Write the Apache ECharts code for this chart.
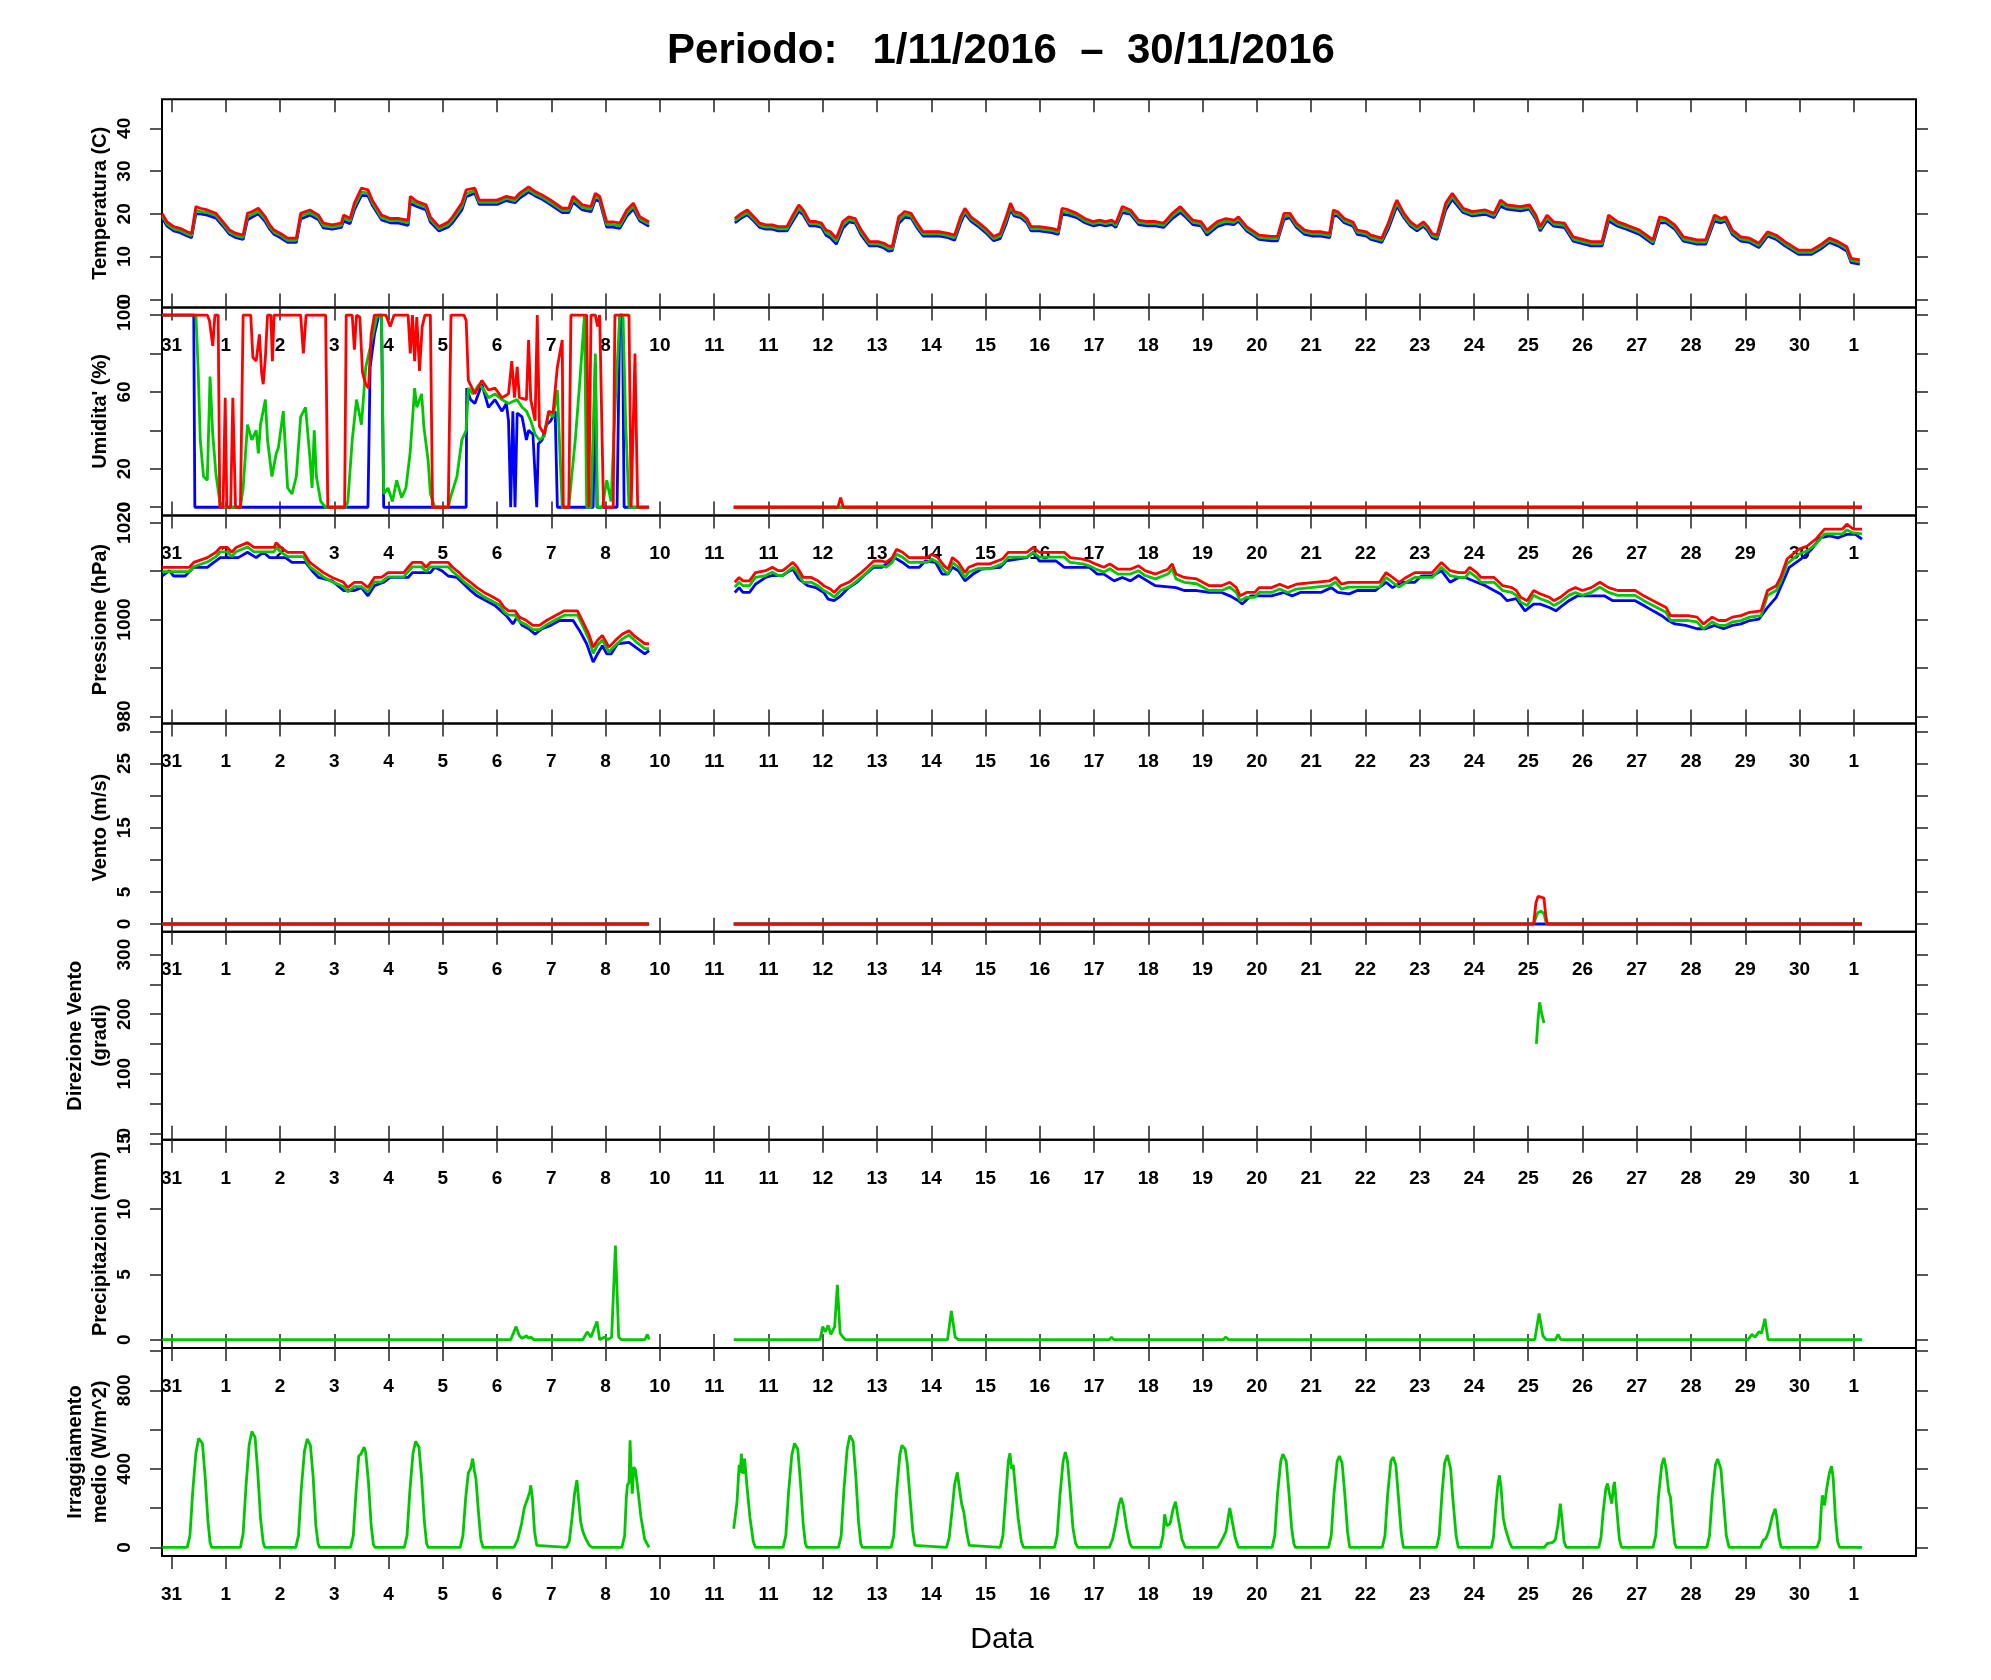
<!DOCTYPE html>
<html><head><meta charset="utf-8"><title>Periodo 1/11/2016 - 30/11/2016</title>
<script src="https://cdn.jsdelivr.net/npm/echarts@6/dist/echarts.min.js"></script>
<style>html,body{margin:0;padding:0;background:#fff;}#chart{width:1991px;height:1680px;}</style>
</head><body><div id="chart"></div><script>
const FONT = '"Liberation Sans", Arial, Helvetica, sans-serif';
const RED = '#ff0000', GREEN = '#00c800', BLUE = '#0000ff';

// x axis: days counted from the "31" tick
const dayTicks = [0,1,2,3,4,5,6,7,8,9,10,11,12,13,14,15,16,17,18,19,20,21,22,23,24,25,26,27,28,29,30,31];
const dayLabels = ['31','1','2','3','4','5','6','7','8','10','11','11','12','13','14','15','16','17','18','19','20','21','22','23','24','25','26','27','28','29','30','1'];

// ---------- Temperatura ----------
const tempT = [
-0.17,-0.08,0.04,0.16,0.29,0.37,0.45,0.53,0.66,0.82,
0.95,1.07,1.19,1.32,1.40,1.48,1.60,1.73,1.81,1.89,
2.01,2.14,2.30,2.38,2.55,2.71,2.80,2.96,3.13,3.17,
3.29,3.37,3.50,3.62,3.70,3.87,4.03,4.19,4.36,4.40,
4.52,4.69,4.77,4.93,5.10,5.18,5.35,5.43,5.59,5.67,
5.84,6.00,6.17,6.33,6.41,6.58,6.70,6.83,6.99,7.20,
7.32,7.40,7.57,7.73,7.81,7.89,8.02,8.14,8.26,8.39,
8.51,8.63,8.80,
9.5,
10.38,10.50,10.61,10.73,10.84,10.95,11.07,11.18,11.34,11.45,
11.56,11.64,11.76,11.87,11.98,12.06,12.14,12.25,12.37,12.48,
12.60,12.71,12.86,13.02,13.13,13.21,13.28,13.40,13.51,13.63,
13.74,13.85,14.01,14.16,14.31,14.43,14.54,14.62,14.73,14.85,
15.00,15.15,15.27,15.38,15.46,15.53,15.65,15.76,15.84,15.99,
16.22,16.34,16.41,16.53,16.68,16.83,16.98,17.10,17.21,17.33,
17.40,17.52,17.67,17.82,17.98,18.13,18.28,18.44,18.59,18.70,
18.82,18.97,19.08,19.27,19.43,19.58,19.66,19.81,20.04,20.27,
20.38,20.50,20.61,20.73,20.88,21.03,21.18,21.34,21.41,21.49,
21.61,21.77,21.85,22.02,22.10,22.22,22.30,22.42,22.54,22.58,
22.71,22.83,22.95,23.07,23.15,23.23,23.32,23.48,23.60,23.80,
23.97,24.21,24.37,24.49,24.61,24.86,25.02,25.14,25.22,25.35,
25.47,25.67,25.83,26.16,26.36,26.48,26.65,26.81,27.05,27.30,
27.42,27.54,27.70,27.86,28.11,28.27,28.43,28.55,28.64,28.76,
28.92,29.08,29.25,29.41,29.57,29.73,29.98,30.22,30.38,30.55,
30.71,30.87,30.95,31.11];
const tempMax = [
20.0,18.1,17.0,16.6,15.8,15.4,21.7,21.3,20.9,20.1,
18.1,16.2,15.4,15.0,20.1,20.5,21.3,19.3,17.4,16.2,
15.4,14.3,14.3,20.1,20.9,19.7,17.8,17.4,17.8,19.7,
18.9,22.5,26.0,25.6,23.2,19.7,18.9,18.9,18.5,24.1,
22.9,22.1,19.3,17.0,18.1,19.3,22.5,25.6,26.0,23.2,
23.2,23.2,24.1,23.6,24.8,26.3,25.2,24.4,23.2,21.3,
21.3,24.1,22.1,21.7,24.8,24.1,18.1,18.1,17.8,20.9,
22.5,19.3,18.1,
null,
18.9,20.1,20.9,19.3,17.8,17.4,17.4,17.0,17.0,19.7,
22.1,20.9,18.2,18.2,17.8,16.2,15.8,14.3,18.2,19.3,
18.9,16.2,13.5,13.5,13.1,12.5,12.3,19.3,20.5,20.1,
17.8,15.8,15.8,15.8,15.4,15.0,19.3,21.3,19.3,18.2,
16.6,14.7,15.4,19.3,22.5,20.5,20.1,18.9,17.0,17.0,
16.6,16.2,21.3,20.9,20.1,18.9,18.2,18.5,18.2,18.5,
17.8,21.7,20.9,18.5,18.2,18.2,17.8,20.1,21.7,20.1,
18.5,18.2,16.2,18.2,18.9,18.5,19.3,17.0,15.0,14.7,
14.7,20.1,20.1,17.8,16.2,15.8,15.8,15.4,20.9,20.5,
18.9,18.1,16.2,15.8,15.0,14.6,14.3,17.8,22.1,23.2,
20.1,18.1,17.0,18.1,17.0,15.4,15.0,22.5,24.8,21.3,
20.5,20.9,20.1,23.2,22.1,21.7,22.1,19.7,17.0,19.7,
18.1,17.8,14.6,13.5,13.5,19.7,18.1,17.4,16.2,13.9,
19.3,18.9,17.4,14.6,13.9,13.9,19.7,18.9,19.3,16.2,
14.6,14.3,13.1,15.8,15.0,13.5,11.5,11.5,12.7,14.3,
13.5,12.3,9.6,9.2];
const tempMean = [
19.5,17.6,16.5,16.1,15.3,14.9,20.8,20.6,20.3,19.6,
17.6,15.7,14.9,14.5,19.3,19.8,20.6,18.7,16.9,15.7,
14.9,13.8,13.8,19.4,20.3,19.1,17.2,16.9,17.3,19.0,
18.3,21.7,25.1,24.9,22.6,19.1,18.4,18.4,17.9,23.2,
22.3,21.5,18.7,16.5,17.5,18.6,21.7,24.8,25.4,22.7,
22.7,22.7,23.6,23.1,24.2,25.7,24.7,23.9,22.6,20.8,
20.8,23.4,21.5,21.1,24.1,23.5,17.5,17.5,17.2,20.2,
21.8,18.8,17.6,
null,
18.4,19.5,20.3,18.8,17.3,16.9,16.9,16.5,16.5,19.0,
21.3,20.3,17.7,17.7,17.3,15.6,15.1,13.6,17.4,18.7,
18.3,15.6,13.0,13.0,12.5,11.9,11.8,18.5,19.8,19.5,
17.2,15.3,15.3,15.3,14.9,14.4,18.5,20.7,18.8,17.7,
16.1,14.2,14.8,18.5,21.7,20.0,19.6,18.4,16.5,16.5,
16.1,15.7,20.6,20.3,19.6,18.4,17.7,18.0,17.7,18.0,
17.3,21.0,20.4,18.0,17.7,17.7,17.3,19.5,21.0,19.6,
18.0,17.7,15.6,17.6,18.3,18.0,18.8,16.5,14.5,14.2,
14.2,19.4,19.6,17.3,15.7,15.3,15.3,14.9,20.2,20.0,
18.4,17.6,15.7,15.3,14.5,14.1,13.8,17.1,21.3,22.5,
19.6,17.6,16.5,17.6,16.5,14.9,14.5,21.7,24.1,20.8,
20.0,20.4,19.6,22.5,21.6,21.2,21.6,19.2,16.5,19.1,
17.6,17.3,14.1,13.0,13.0,19.0,17.6,16.9,15.7,13.4,
18.6,18.4,16.9,14.1,13.4,13.4,19.0,18.4,18.8,15.7,
14.1,13.8,12.6,15.3,14.5,13.0,11.0,11.0,12.2,13.8,
13.0,11.8,9.1,8.7];
const tempMin = [
19.0,17.1,16.0,15.6,14.8,14.4,20.0,20.0,19.7,19.0,
17.1,15.2,14.4,14.0,18.6,19.2,20.0,18.1,16.4,15.2,
14.4,13.3,13.3,18.8,19.7,18.6,16.7,16.4,16.8,18.3,
17.7,20.9,24.3,24.2,22.0,18.6,17.9,17.8,17.3,22.4,
21.7,20.9,18.1,16.0,16.9,17.9,20.9,24.0,24.8,22.2,
22.2,22.2,23.1,22.6,23.6,25.1,24.2,23.4,22.1,20.3,
20.3,22.7,20.9,20.5,23.3,22.9,16.9,16.9,16.6,19.5,
21.1,18.3,17.1,
null,
17.9,19.0,19.8,18.3,16.8,16.4,16.4,16.0,16.0,18.3,
20.6,19.8,17.2,17.2,16.8,15.0,14.4,12.9,16.6,18.1,
17.8,15.0,12.5,12.5,12.0,11.3,11.4,17.7,19.2,19.0,
16.7,14.8,14.8,14.8,14.4,13.8,17.8,20.1,18.3,17.2,
15.6,13.7,14.2,17.7,20.9,19.5,19.1,17.9,16.0,16.0,
15.6,15.2,19.9,19.7,19.1,17.9,17.2,17.5,17.2,17.5,
16.8,20.3,19.9,17.5,17.2,17.2,16.8,18.9,20.3,19.1,
17.5,17.2,15.0,17.0,17.7,17.5,18.3,16.0,14.0,13.7,
13.7,18.7,19.1,16.8,15.2,14.8,14.8,14.4,19.5,19.5,
17.9,17.1,15.2,14.8,14.0,13.6,13.3,16.4,20.5,21.8,
19.1,17.1,16.0,17.1,16.0,14.4,14.0,20.9,23.4,20.3,
19.5,19.9,19.1,21.8,21.1,20.7,21.1,18.7,16.0,18.5,
17.1,16.8,13.6,12.5,12.5,18.3,17.1,16.4,15.2,12.9,
17.9,17.9,16.4,13.6,12.9,12.9,18.3,17.9,18.3,15.2,
13.6,13.3,12.1,14.8,14.0,12.5,10.5,10.5,11.7,13.3,
12.5,11.3,8.6,8.2];

// ---------- Umidita' ----------
const humMaxT = [
-0.17,0.66,0.70,0.76,0.80,0.86,0.89,0.95,0.99,1.02,
1.09,1.13,1.18,1.27,1.32,1.46,1.50,1.56,1.62,1.66,
1.69,1.73,1.77,1.83,1.86,1.89,2.38,2.43,2.48,2.84,
2.88,3.19,3.22,3.33,3.37,3.41,3.47,3.52,3.58,3.63,
3.68,3.74,3.95,4.03,4.10,4.36,4.40,4.44,4.48,4.52,
4.57,4.62,4.67,4.77,4.81,5.10,5.15,5.39,5.43,5.47,
5.59,5.72,5.84,5.96,6.09,6.21,6.27,6.32,6.37,6.41,
6.54,6.58,6.62,6.70,6.74,6.78,6.87,6.95,7.03,7.11,
7.20,7.22,7.32,7.36,7.65,7.69,7.73,7.81,7.85,7.89,
7.96,8.14,8.17,8.43,8.47,8.54,8.59,8.80,
9.5,
10.36,12.28,12.33,12.38,31.15];
const humMax = [
100,100,97,84,100,100,0,0,57,0,
0,57,0,0,100,100,78,76,90,70,
64,78,100,100,76,100,100,80,100,100,
0,0,100,100,82,100,99,70,64,62,
90,100,100,94,100,100,80,100,76,99,
71,94,100,100,0,0,100,100,97,66,
59,66,61,62,57,59,76,57,73,57,
56,87,56,45,100,42,38,50,49,73,
87,0,0,100,100,0,100,100,94,100,
0,0,100,100,0,80,0,0,
null,
0,0,5,0,0];
const humMeanT = [
-0.17,0.45,0.49,0.53,0.59,0.66,0.71,0.76,0.82,0.89,
0.95,1.27,1.32,1.40,1.48,1.56,1.60,1.64,1.73,1.77,
1.85,1.93,1.97,2.06,2.14,2.22,2.30,2.38,2.47,2.55,
2.59,2.63,2.67,2.75,2.84,3.21,3.25,3.33,3.41,3.50,
3.58,3.66,3.78,3.87,3.91,3.99,4.07,4.15,4.24,4.32,
4.40,4.48,4.52,4.61,4.65,4.73,4.77,4.85,5.10,5.14,
5.26,5.35,5.43,5.47,5.55,5.67,5.76,5.84,5.96,6.09,
6.21,6.29,6.37,6.46,6.54,6.62,6.70,6.78,6.87,6.95,
7.03,7.11,7.20,7.32,7.44,7.52,7.61,7.65,7.73,7.81,
7.85,7.94,8.02,8.10,8.18,8.26,8.32,8.37,8.43,8.80,
9.5,
10.36,31.15];
const humMean = [
100,100,73,35,16,14,68,38,17,3,
0,0,10,43,35,40,28,43,56,35,
16,28,31,50,10,7,16,47,52,26,
10,40,16,3,0,0,3,35,56,43,
73,83,99,100,7,10,3,14,5,10,
29,62,52,59,42,24,7,0,0,5,
16,35,40,62,59,64,61,57,59,56,
54,55,56,52,50,45,38,35,37,49,
47,61,0,0,35,64,100,0,0,80,
0,0,14,3,56,100,100,43,0,0,
null,
0,0];
const humMinT = [
-0.17,0.41,0.43,3.62,3.66,3.74,3.82,3.87,3.91,5.43,
5.44,5.51,5.59,5.72,5.84,5.96,6.09,6.17,6.21,6.25,
6.29,6.33,6.37,6.46,6.54,6.58,6.66,6.73,6.76,6.83,
6.91,6.99,7.07,7.11,7.77,7.81,7.84,8.21,8.26,8.31,
8.34,8.80,
9.5,
10.36,31.15];
const humMin = [
100,100,0,0,73,90,100,100,0,0,
62,56,54,64,52,56,50,54,45,0,
50,0,49,47,35,40,38,0,33,35,
43,45,50,0,0,75,0,0,100,100,
0,0,
null,
0,0];

// ---------- Pressione ----------
const presMaxT = [
-0.17,0.33,0.41,0.66,0.82,0.90,1.03,1.11,1.19,1.40,
1.52,1.89,1.93,2.01,2.14,2.43,2.55,2.67,2.80,2.96,
3.17,3.25,3.37,3.50,3.62,3.74,3.87,3.99,4.28,4.36,
4.44,4.61,4.69,4.77,5.10,5.18,5.30,5.39,5.51,5.63,
5.76,5.88,6.04,6.13,6.21,6.33,6.41,6.54,6.66,6.78,
6.91,7.07,7.24,7.48,7.57,7.69,7.77,7.85,7.94,8.06,
8.18,8.31,8.43,8.55,8.72,8.80,
9.5,
10.38,10.46,10.53,10.65,10.76,10.95,11.07,11.18,11.26,11.34,
11.45,11.53,11.64,11.79,11.91,12.02,12.14,12.21,12.33,12.48,
12.60,12.71,12.82,12.94,13.09,13.17,13.28,13.36,13.47,13.59,
13.93,14.01,14.12,14.24,14.31,14.39,14.50,14.62,14.69,14.85,
15.08,15.31,15.42,15.76,15.88,15.99,16.45,16.56,16.79,16.91,
17.02,17.18,17.29,17.44,17.67,17.82,17.94,18.13,18.36,18.44,
18.51,18.66,18.89,19.12,19.35,19.50,19.62,19.69,19.81,19.96,
20.04,20.27,20.42,20.57,20.73,21.34,21.45,21.56,21.69,21.85,
22.26,22.38,22.50,22.62,22.75,22.91,23.23,23.40,23.56,23.72,
23.84,23.92,24.05,24.13,24.37,24.53,24.70,24.78,24.86,24.98,
25.10,25.22,25.39,25.47,25.59,25.75,25.87,26.00,26.16,26.32,
26.48,26.65,26.97,27.13,27.30,27.54,27.62,27.95,28.11,28.23,
28.39,28.51,28.64,28.76,28.92,29.08,29.29,29.41,29.57,29.65,
29.77,29.98,30.14,30.30,30.46,30.79,30.87,30.99,31.15];
const presMax = [
1010.8,1010.8,1011.8,1012.8,1013.9,1014.9,1014.9,1013.9,1014.9,1015.9,
1014.9,1014.9,1015.9,1014.9,1013.9,1013.9,1011.8,1010.8,1009.7,1008.7,
1007.7,1006.6,1007.7,1007.7,1006.6,1008.7,1008.7,1009.7,1009.7,1010.8,
1011.8,1011.8,1010.8,1011.8,1011.8,1010.8,1009.7,1008.7,1007.7,1006.6,
1005.6,1004.9,1003.9,1002.5,1001.8,1001.8,1000.5,999.8,998.8,998.8,
999.8,1000.8,1001.8,1001.8,999.8,997.0,994.3,995.7,996.7,994.3,
995.7,997.0,997.7,996.4,995.0,995.0,
null,
1007.7,1008.7,1008.0,1008.0,1009.7,1010.1,1010.8,1010.1,1010.1,1010.8,
1011.8,1010.8,1008.7,1008.7,1008.0,1007.0,1006.3,1005.6,1007.0,1007.7,
1008.7,1009.7,1010.8,1012.1,1012.1,1011.8,1012.8,1014.5,1013.9,1012.8,
1012.8,1013.5,1012.8,1011.1,1010.4,1012.8,1011.8,1009.7,1010.8,1011.5,
1011.5,1012.5,1013.9,1013.9,1014.9,1013.9,1013.9,1012.8,1012.5,1012.1,
1011.5,1010.8,1011.5,1010.4,1010.4,1011.1,1010.1,1009.4,1010.4,1011.5,
1009.4,1008.7,1008.4,1007.0,1007.0,1007.7,1006.6,1004.9,1005.6,1005.6,
1006.6,1006.6,1007.3,1006.6,1007.3,1008.0,1008.7,1007.3,1007.7,1007.7,
1007.7,1009.7,1008.7,1007.7,1008.7,1009.7,1009.7,1011.8,1010.1,1009.7,
1009.7,1010.8,1009.7,1008.7,1008.7,1007.0,1006.6,1006.0,1004.6,1003.9,
1006.0,1005.3,1004.6,1003.9,1004.6,1006.0,1006.6,1006.0,1006.6,1007.7,
1006.6,1006.0,1006.0,1004.9,1003.9,1002.5,1000.8,1000.8,1000.5,999.1,
1000.5,999.8,999.8,1000.5,1000.8,1001.5,1001.8,1006.0,1007.0,1008.7,
1012.5,1014.5,1015.2,1016.6,1018.7,1018.7,1019.7,1018.7,1018.7];
const presMean = [
1009.9,1009.9,1010.9,1011.9,1013.0,1014.0,1014.0,1013.0,1014.0,1015.0,
1014.0,1014.0,1015.0,1014.0,1013.0,1013.0,1010.9,1009.9,1008.8,1007.8,
1006.8,1005.7,1006.8,1006.8,1005.7,1007.8,1007.8,1008.8,1008.8,1009.9,
1010.9,1010.9,1009.9,1010.9,1010.9,1009.9,1008.8,1007.8,1006.8,1005.7,
1004.7,1004.0,1003.0,1001.6,1000.9,1000.9,999.6,998.9,997.9,997.9,
998.9,999.9,1000.9,1000.9,998.9,996.0,993.0,994.7,995.8,993.3,
994.7,996.0,996.8,995.5,994.0,994.0,
null,
1006.7,1007.7,1007.0,1007.0,1008.7,1009.1,1009.8,1009.1,1009.1,1009.8,
1010.8,1009.8,1007.7,1007.7,1007.0,1006.0,1005.3,1004.6,1006.0,1006.7,
1007.7,1008.7,1009.8,1011.1,1011.1,1010.8,1011.8,1013.5,1012.9,1011.8,
1011.8,1012.5,1011.8,1010.1,1009.4,1011.8,1010.8,1008.7,1009.8,1010.5,
1010.5,1011.5,1012.9,1012.9,1013.9,1012.9,1012.9,1011.8,1011.5,1011.1,
1010.5,1009.8,1010.5,1009.4,1009.4,1010.1,1009.1,1008.4,1009.4,1010.5,
1008.4,1007.7,1007.4,1006.0,1006.0,1006.7,1005.6,1003.9,1004.6,1004.6,
1005.6,1005.6,1006.3,1005.6,1006.3,1007.0,1007.7,1006.3,1006.7,1006.7,
1006.7,1008.7,1007.7,1006.7,1007.7,1008.7,1008.7,1010.8,1009.1,1008.7,
1008.7,1009.8,1008.7,1007.7,1007.7,1006.0,1005.6,1005.0,1003.6,1002.9,
1005.0,1004.3,1003.6,1002.9,1003.6,1005.0,1005.6,1005.0,1005.6,1006.7,
1005.6,1005.0,1005.0,1003.9,1002.9,1001.5,999.8,999.8,999.5,998.1,
999.5,998.8,998.8,999.5,999.8,1000.5,1000.8,1005.0,1006.0,1007.7,
1011.5,1013.5,1014.2,1015.6,1017.7,1017.7,1018.5,1017.9,1017.7];
const presMinT = [
-0.17,-0.04,0.04,0.25,0.41,0.66,0.78,0.90,1.23,1.40,
1.56,1.69,1.81,2.10,2.22,2.47,2.59,2.71,2.96,3.17,
3.37,3.50,3.62,3.74,3.91,4.03,4.36,4.44,4.77,4.85,
4.98,5.10,5.26,5.39,5.51,5.63,5.84,5.96,6.17,6.29,
6.37,6.46,6.58,6.70,6.83,6.99,7.15,7.40,7.52,7.65,
7.77,7.85,7.94,8.02,8.10,8.22,8.43,8.55,8.72,8.80,
9.5,
10.38,10.46,10.53,10.65,10.76,10.95,11.07,11.26,11.34,11.45,
11.56,11.72,11.87,12.02,12.10,12.21,12.33,12.48,12.63,12.79,
12.94,13.09,13.21,13.32,13.47,13.59,13.78,13.89,14.08,14.20,
14.31,14.39,14.50,14.62,14.77,14.92,15.27,15.38,15.76,15.88,
15.99,16.30,16.45,16.91,17.06,17.18,17.37,17.52,17.67,17.82,
17.98,18.13,18.51,18.66,18.89,19.12,19.35,19.50,19.66,19.73,
19.89,20.27,20.50,20.65,20.80,21.18,21.37,21.49,21.70,21.85,
22.18,22.38,22.50,22.67,22.91,23.03,23.23,23.40,23.56,23.72,
23.84,24.05,24.21,24.37,24.49,24.61,24.78,24.94,25.10,25.22,
25.39,25.51,25.63,25.75,25.91,26.40,26.56,26.97,27.13,27.30,
27.46,27.58,27.70,27.90,28.11,28.27,28.43,28.60,28.76,28.92,
29.08,29.25,29.41,29.57,29.73,29.81,30.06,30.22,30.38,30.55,
30.71,30.87,31.03,31.15];
const presMin = [
1009.0,1010.1,1009.0,1009.0,1010.8,1010.8,1011.8,1012.8,1012.8,1013.9,
1012.8,1013.9,1012.8,1012.8,1011.8,1011.8,1010.1,1008.7,1008.0,1006.0,
1006.0,1006.6,1004.9,1007.0,1007.7,1008.7,1008.7,1009.7,1009.7,1010.8,
1010.1,1009.0,1008.7,1007.3,1006.0,1004.9,1003.6,1002.9,1000.8,999.1,
1000.5,998.8,998.1,997.0,998.1,998.8,999.8,999.8,997.7,995.0,
991.2,992.9,994.6,992.9,992.9,995.0,995.3,994.3,992.9,993.6,
null,
1005.6,1006.6,1005.6,1005.6,1007.3,1008.7,1009.1,1009.1,1009.7,1010.4,
1008.4,1007.0,1006.6,1005.6,1004.2,1003.9,1004.9,1006.6,1007.7,1009.4,
1010.8,1010.8,1011.8,1012.8,1011.8,1010.8,1010.8,1012.1,1011.8,1009.4,
1009.4,1010.8,1010.1,1008.0,1009.4,1010.4,1010.8,1012.1,1012.8,1013.9,
1012.1,1012.1,1010.8,1010.8,1009.4,1009.4,1008.0,1008.7,1008.0,1009.1,
1008.0,1007.0,1006.6,1006.0,1006.0,1005.6,1005.6,1004.9,1003.9,1003.2,
1004.9,1004.9,1005.6,1004.9,1005.6,1005.6,1006.6,1005.6,1005.3,1006.0,
1006.0,1007.7,1006.6,1007.7,1007.7,1009.0,1009.0,1010.1,1007.7,1008.7,
1008.7,1007.7,1007.0,1006.0,1005.3,1003.9,1004.3,1001.8,1003.2,1003.2,
1002.5,1001.8,1002.9,1003.9,1004.9,1004.9,1003.9,1003.9,1002.9,1001.8,
1000.8,999.8,999.1,998.8,998.1,998.1,998.8,998.1,998.8,999.1,
999.8,1000.1,1002.5,1004.6,1008.7,1010.8,1012.8,1014.5,1016.9,1017.3,
1016.9,1017.6,1017.6,1016.6];

// ---------- Vento ----------
const windT    = [-0.17,8.80,9.5,10.36,25.10,25.14,25.18,25.24,25.29,25.32,25.35,31.15];
const windMax  = [0,0,null,0,0,3.2,4.3,4.2,4.0,1.5,0,0];
const windMean = [0,0,null,0,0,1.0,1.8,2.0,1.6,0.5,0,0];
const windMin  = [0,0,null,0,0,0,0,0,0,0,0,0];

// ---------- Direzione Vento ----------
const dirT = [25.15,25.18,25.21,25.25,25.29];
const dirV = [150,190,220,200,185];

// ---------- Precipitazioni ----------
const precT = [
-0.17,6.25,6.35,6.41,6.46,6.54,6.58,6.62,6.68,7.58,
7.66,7.73,7.84,7.89,7.98,8.04,8.11,8.18,8.24,8.29,
8.72,8.77,8.80,9.5,10.36,11.95,12.00,12.05,12.10,12.15,
12.22,12.27,12.32,12.37,12.42,14.30,14.37,14.44,14.50,17.28,
17.32,17.36,19.38,19.42,19.48,25.12,25.20,25.27,25.33,25.50,
25.55,25.60,29.05,29.12,29.18,29.25,29.30,29.36,29.42,31.15];
const precV = [
0,0,1.0,0.3,0.1,0.3,0.1,0.2,0,0,
0.6,0.2,1.4,0,0.2,0,0.2,7.2,0.2,0,
0,0.4,0,null,0,0,1.0,0.6,1.1,0.4,
1.0,4.2,0.5,0.2,0,0,2.2,0.2,0,0,
0.2,0,0,0.2,0,0,2.0,0.3,0,0,
0.4,0,0,0.4,0.2,0.6,0.5,1.6,0,0];

// ---------- Irraggiamento medio ----------
const irrT = [
-0.17,
0.29,0.34,0.39,0.45,0.50,0.53,0.57,0.62,0.67,0.71,0.74,
1.27,1.32,1.37,1.43,1.48,1.50,1.54,1.59,1.64,1.69,1.72,
2.29,2.34,2.39,2.45,2.50,2.52,2.56,2.61,2.66,2.70,2.73,
3.30,3.35,3.40,3.45,3.49,3.55,3.58,3.63,3.68,3.72,3.75,
4.29,4.34,4.39,4.45,4.50,4.52,4.56,4.61,4.66,4.70,4.73,
5.32,5.37,5.42,5.47,5.51,5.55,5.58,5.61,5.65,5.70,5.74,
6.31,6.38,6.45,6.50,6.55,6.60,6.62,6.65,6.69,6.73,6.76,
7.28,7.33,7.38,7.43,7.47,7.50,7.54,7.58,7.64,7.70,7.75,
8.30,8.35,8.38,8.40,8.43,8.45,8.47,8.49,8.52,8.55,8.60,8.65,8.72,8.78,8.80,
9.5,
10.36,10.42,10.46,10.48,10.50,10.53,10.56,10.60,10.66,10.72,10.76,
11.27,11.32,11.37,11.43,11.48,11.50,11.54,11.59,11.64,11.68,11.71,
12.29,12.34,12.39,12.45,12.50,12.52,12.56,12.61,12.66,12.70,12.73,
13.26,13.31,13.36,13.42,13.46,13.48,13.52,13.56,13.61,13.66,13.70,13.73,
14.28,14.33,14.38,14.43,14.48,14.52,14.56,14.60,14.65,14.70,14.73,
15.27,15.32,15.37,15.42,15.45,15.48,15.51,15.55,15.60,15.66,15.70,
16.27,16.32,16.37,16.43,16.47,16.51,16.56,16.61,16.66,16.70,
17.28,17.34,17.40,17.46,17.50,17.54,17.60,17.66,17.70,
18.22,18.27,18.30,18.34,18.40,18.46,18.50,18.55,18.62,18.68,
19.28,19.36,19.43,19.47,19.50,19.54,19.60,19.66,
20.28,20.33,20.38,20.44,20.48,20.50,20.54,20.59,20.64,20.68,20.71,
21.32,21.37,21.42,21.48,21.52,21.53,21.57,21.62,21.67,21.71,
22.31,22.36,22.41,22.47,22.51,22.52,22.56,22.61,22.66,22.70,
23.31,23.36,23.41,23.46,23.51,23.54,23.57,23.61,23.63,23.67,23.71,
24.32,24.36,24.40,24.44,24.47,24.50,24.54,24.58,24.61,24.65,24.70,
25.30,25.35,25.45,25.50,25.55,25.59,25.62,25.66,25.70,
26.30,26.34,26.38,26.43,26.46,26.50,26.54,26.57,26.59,26.63,26.68,26.72,
27.30,27.35,27.40,27.46,27.50,27.54,27.59,27.62,27.66,27.70,27.73,
28.29,28.34,28.39,28.45,28.49,28.51,28.55,28.60,28.65,28.70,
29.28,29.33,29.38,29.44,29.50,29.55,29.58,29.62,29.66,
30.32,30.37,30.40,30.42,30.46,30.50,30.55,30.59,30.62,30.66,30.70,30.74,
31.15];
const irrV = [
0,
0,60,280,480,555,562,530,360,140,25,0,
0,70,300,520,590,596,560,380,150,25,0,
0,60,290,490,552,557,520,360,110,20,0,
0,60,280,465,475,511,480,330,110,15,0,
0,60,280,480,540,545,510,350,130,20,0,
0,60,250,380,400,452,390,350,200,40,0,
0,40,120,200,240,280,316,250,80,10,0,
0,30,150,280,342,250,130,80,40,10,0,
0,60,250,316,330,545,380,273,409,393,280,155,40,10,0,
null,
95,230,420,380,477,375,452,324,150,30,0,
0,60,280,470,530,536,500,330,120,20,0,
0,60,290,500,570,576,540,360,130,20,0,
0,60,280,470,520,530,500,420,250,80,10,0,
0,50,180,320,382,300,220,180,80,10,0,
0,60,250,440,479,400,420,300,150,30,0,
0,60,260,440,485,440,280,100,20,0,
0,40,120,220,252,210,100,20,0,
0,60,168,110,120,200,233,150,40,0,
0,40,80,150,200,140,50,0,
0,60,270,440,475,479,440,280,100,20,0,
0,60,270,440,465,469,430,270,80,0,
0,60,270,440,460,463,420,250,70,0,
0,60,270,430,470,480,400,250,189,60,0,
0,50,200,320,367,300,150,95,87,30,0,
0,19,25,40,120,223,150,30,0,
0,50,180,300,325,270,223,310,333,200,40,0,
0,60,260,420,456,400,280,257,130,20,0,
0,60,260,420,450,456,400,230,60,0,
0,36,45,90,160,197,150,50,0,
0,40,200,265,214,300,380,413,350,150,30,0,
0];

// y axis ticks and labels per panel
const tempTicks = [0,10,20,30,40],            tempLabels = [0,10,20,30,40];
const humTicks  = [0,20,40,60,80,100],        humLabels  = [0,20,60,100];
const presTicks = [980,990,1000,1010,1020],   presLabels = [980,1000,1020];
const windTicks = [0,5,10,15,20,25,30],       windLabels = [0,5,15,25];
const dirTicks  = [0,50,100,150,200,250,300], dirLabels  = [0,100,200,300];
const precTicks = [0,5,10,15],                precLabels = [0,5,10,15];
const irrTicks  = [0,200,400,600,800,1000],   irrLabels  = [0,400,800];

function pts(name, t, v) {
  if (t.length !== v.length) throw new Error(name + ': ' + t.length + ' times vs ' + v.length + ' values');
  return t.map((x, i) => [x, v[i] === null ? '-' : v[i]]);
}

const panels = [
  {name: 'Temperatura (C)', min: -1.9, max: 46.8, ticks: tempTicks, labels: tempLabels, series: [
    {d: pts('tmin', tempT, tempMin), c: BLUE}, {d: pts('tmean', tempT, tempMean), c: GREEN}, {d: pts('tmax', tempT, tempMax), c: RED}]},
  {name: "Umidita' (%)", min: -4.3, max: 104, ticks: humTicks, labels: humLabels, series: [
    {d: pts('hmin', humMinT, humMin), c: BLUE}, {d: pts('hmean', humMeanT, humMean), c: GREEN}, {d: pts('hmax', humMaxT, humMax), c: RED}]},
  {name: 'Pressione (hPa)', min: 978.5, max: 1021.5, ticks: presTicks, labels: presLabels, series: [
    {d: pts('pmin', presMinT, presMin), c: BLUE}, {d: pts('pmean', presMaxT, presMean), c: GREEN}, {d: pts('pmax', presMaxT, presMax), c: RED}]},
  {name: 'Vento (m/s)', min: -1.2, max: 31.2, ticks: windTicks, labels: windLabels, series: [
    {d: pts('wmin', windT, windMin), c: BLUE}, {d: pts('wmean', windT, windMean), c: GREEN}, {d: pts('wmax', windT, windMax), c: RED}]},
  {name: 'Direzione Vento\n(gradi)', min: -11, max: 338.5, ticks: dirTicks, labels: dirLabels, series: [
    {d: pts('dir', dirT, dirV), c: GREEN}]},
  {name: 'Precipitazioni (mm)', min: -0.63, max: 15.3, ticks: precTicks, labels: precLabels, series: [
    {d: pts('prec', precT, precV), c: GREEN}]},
  {name: 'Irraggiamento\nmedio (W/m^2)', min: -44, max: 1016, ticks: irrTicks, labels: irrLabels, series: [
    {d: pts('irr', irrT, irrV), c: GREEN}]}
];

const X_MIN = -0.175, X_MAX = 32.145;
const GRID_LEFT = 162, GRID_W = 1754, GRID_TOP = 99.3, GRID_H = 208.1;
const TICK = {color: '#222', width: 1.5};
const grids = [], xAxes = [], yAxes = [], series = [];

panels.forEach((p, i) => {
  grids.push({left: GRID_LEFT, top: GRID_TOP + i * GRID_H, width: GRID_W, height: GRID_H,
    show: true, borderColor: '#000', borderWidth: 2, backgroundColor: 'transparent',
    containLabel: false, outerBoundsMode: 'none'});
  const xb = {gridIndex: i, type: 'value', min: X_MIN, max: X_MAX, splitLine: {show: false},
    axisLine: {show: false, onZero: false}};
  xAxes.push(Object.assign({}, xb, {position: 'bottom',
    axisTick: {show: true, inside: false, length: 13, customValues: dayTicks, lineStyle: TICK},
    axisLabel: {show: true, customValues: dayTicks, formatter: v => dayLabels[Math.round(v)],
      margin: 29, fontSize: 19, fontWeight: 'bold', color: '#000', fontFamily: FONT}}));
  const xi = xAxes.length - 1;
  if (i < panels.length - 1) {
    xAxes.push(Object.assign({}, xb, {position: 'bottom',
      axisTick: {show: true, inside: true, length: 14, customValues: dayTicks, lineStyle: TICK},
      axisLabel: {show: false}}));
  }
  xAxes.push(Object.assign({}, xb, {position: 'top',
    axisTick: {show: true, inside: true, length: 13, customValues: dayTicks, lineStyle: TICK},
    axisLabel: {show: false}}));
  const yb = {gridIndex: i, type: 'value', min: p.min, max: p.max, splitLine: {show: false},
    axisLine: {show: false, onZero: false}};
  yAxes.push(Object.assign({}, yb, {position: 'left',
    axisTick: {show: true, inside: false, length: 12, customValues: p.ticks, lineStyle: TICK},
    axisLabel: {show: true, customValues: p.labels, rotate: 90, margin: 28, formatter: v => String(v),
      fontSize: 19, fontWeight: 'bold', color: '#000', fontFamily: FONT},
    name: p.name, nameLocation: 'middle', nameGap: 49, nameRotate: 90, nameMoveOverlap: false,
    nameTextStyle: {fontSize: 20, fontWeight: 'bold', color: '#000', fontFamily: FONT, lineHeight: 25, align: 'center'}}));
  const yi = yAxes.length - 1;
  yAxes.push(Object.assign({}, yb, {position: 'right',
    axisTick: {show: true, inside: false, length: 12, customValues: p.ticks, lineStyle: TICK},
    axisLabel: {show: false}}));
  p.series.forEach(s => series.push({type: 'line', xAxisIndex: xi, yAxisIndex: yi, data: s.d,
    showSymbol: false, symbol: 'none', connectNulls: false, clip: true,
    lineStyle: {color: s.c, width: 2.8}, itemStyle: {color: s.c}, emphasis: {disabled: true}, silent: true}));
});

const chart = echarts.init(document.getElementById('chart'), null, {renderer: 'canvas', width: 1991, height: 1680});
chart.setOption({
  animation: false,
  backgroundColor: '#fff',
  grid: grids, xAxis: xAxes, yAxis: yAxes, series: series,
  graphic: [
    {type: 'text', x: 1001, y: 51, style: {text: 'Periodo:   1/11/2016  \u2013  30/11/2016', fontSize: 42, fontWeight: 'bold',
      fontFamily: FONT, fill: '#000', align: 'center', verticalAlign: 'middle'}},
    {type: 'text', x: 1002, y: 1640, style: {text: 'Data', fontSize: 30, fontFamily: FONT, fill: '#000',
      align: 'center', verticalAlign: 'middle'}}
  ]
});
</script></body></html>
